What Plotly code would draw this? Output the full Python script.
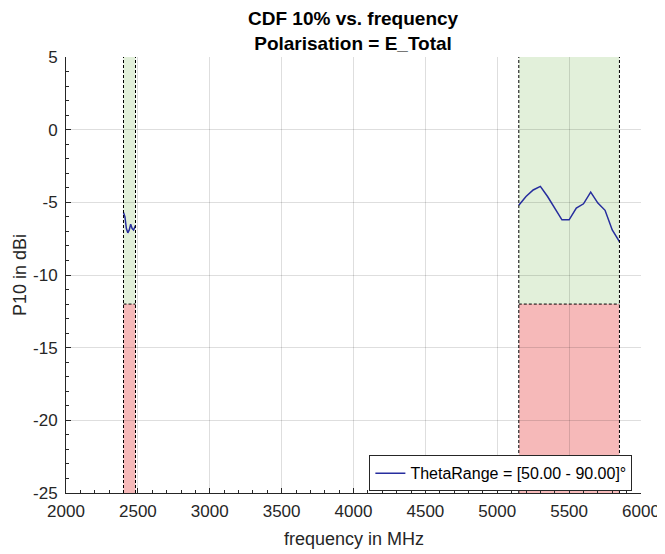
import plotly.graph_objects as go

# Data
freq_band1 = [2400, 2410, 2420, 2430, 2440, 2450, 2460, 2470, 2483.5]
p10_band1 = [-5.7, -6.0, -6.8, -7.1, -6.9, -6.5, -6.8, -6.9, -6.6]

freq_band2 = [5150, 5200, 5250, 5300, 5350, 5400, 5450, 5500, 5550, 5600, 5650, 5700, 5750, 5800, 5850]
p10_band2 = [-5.2, -4.6, -4.15, -3.9, -4.6, -5.4, -6.2, -6.2, -5.4, -5.1, -4.3, -5.05, -5.55, -6.9, -7.7]

band_starts = [2400, 5150]
band_ends = [2483.5, 5850]
threshold = -12
y_min, y_max = -25, 5
x_min, x_max = 2000, 6000

x_ticks = [2000, 2500, 3000, 3500, 4000, 4500, 5000, 5500, 6000]
x_labels = ["2000", "2500", "3000", "3500", "4000", "4500", "5000", "5500", "6000"]
y_ticks = [-25, -20, -15, -10, -5, 0, 5]
y_labels = ["-25", "-20", "-15", "-10", "-5", "0", "5"]

FONT = "Arial, Liberation Sans, sans-serif"
GREEN = "rgb(226,240,218)"
RED = "rgb(246,185,185)"
LINE = "rgb(38,45,158)"
TXT = "#262626"

fig = go.Figure()

shapes = []
for s, e in zip(band_starts, band_ends):
    shapes.append(dict(type="rect", xref="x", yref="y", x0=s, x1=e, y0=threshold, y1=y_max,
                       fillcolor=GREEN, line=dict(width=0), layer="below"))
    shapes.append(dict(type="rect", xref="x", yref="y", x0=s, x1=e, y0=y_min, y1=threshold,
                       fillcolor=RED, line=dict(width=0), layer="below"))
for s, e in zip(band_starts, band_ends):
    for xv in (s, e):
        shapes.append(dict(type="line", xref="x", yref="y", x0=xv, x1=xv, y0=y_min, y1=y_max,
                           line=dict(color="black", width=1, dash="3px,2px"), layer="above"))
    shapes.append(dict(type="line", xref="x", yref="y", x0=s, x1=e, y0=threshold, y1=threshold,
                       line=dict(color="black", width=1, dash="3px,2px"), layer="above"))

fig.add_trace(go.Scatter(x=freq_band1, y=p10_band1, mode="lines",
                         line=dict(color=LINE, width=1.5),
                         name="ThetaRange = [50.00 - 90.00]°", legendgroup="a"))
fig.add_trace(go.Scatter(x=freq_band2, y=p10_band2, mode="lines",
                         line=dict(color=LINE, width=1.5),
                         name="ThetaRange = [50.00 - 90.00]°", legendgroup="a", showlegend=False))

grid_col = "rgba(0,0,0,0.13)"
axis_font = dict(family=FONT, size=17, color=TXT)

annotations = [
    dict(text="<b>CDF 10% vs. frequency</b><br><b>Polarisation = E_Total</b>",
         xref="paper", yref="paper", x=0.5, y=1 + 26 / 436, xanchor="center", yanchor="middle",
         showarrow=False, font=dict(family=FONT, size=19, color="black")),
    dict(text="frequency in MHz", xref="paper", yref="paper", x=0.5, y=-46 / 436,
         xanchor="center", yanchor="middle", showarrow=False,
         font=dict(family=FONT, size=18, color=TXT)),
    dict(text="P10 in dBi", xref="paper", yref="paper", x=-46 / 575, y=0.5,
         xanchor="center", yanchor="middle", textangle=-90, showarrow=False,
         font=dict(family=FONT, size=18, color=TXT)),
]

# page body has an 8px margin: compensate so the plot area sits at (66..641, 57..493)
fig.update_layout(
    width=657, height=546,
    margin=dict(l=58, t=49, r=24, b=61),
    paper_bgcolor="white", plot_bgcolor="white",
    shapes=shapes,
    annotations=annotations,
    xaxis=dict(range=[x_min, x_max], tickvals=x_ticks, ticktext=x_labels, ticks="inside", ticklen=5,
               tickcolor=TXT, showline=True, linecolor=TXT, linewidth=1,
               showgrid=True, gridcolor=grid_col, gridwidth=1, zeroline=False,
               tickfont=axis_font, automargin=False, ticklabelstandoff=3,
               minor=dict(dtick=100, ticks="inside", ticklen=3, tickcolor=TXT, showgrid=False)),
    yaxis=dict(range=[y_min, y_max], tickvals=y_ticks, ticktext=y_labels, ticks="inside", ticklen=5,
               tickcolor=TXT, showline=True, linecolor=TXT, linewidth=1,
               showgrid=True, gridcolor=grid_col, gridwidth=1, zeroline=False,
               tickfont=axis_font, automargin=False, ticklabelstandoff=4,
               minor=dict(dtick=1, ticks="inside", ticklen=3, tickcolor=TXT, showgrid=False)),
    legend=dict(x=0.985, xanchor="right", y=0.004, yanchor="bottom",
                bgcolor="white", bordercolor=TXT, borderwidth=1,
                font=dict(family=FONT, size=16, color="black"),
                itemwidth=30, tracegroupgap=0),
    showlegend=True,
)

fig.write_html("out.html")
